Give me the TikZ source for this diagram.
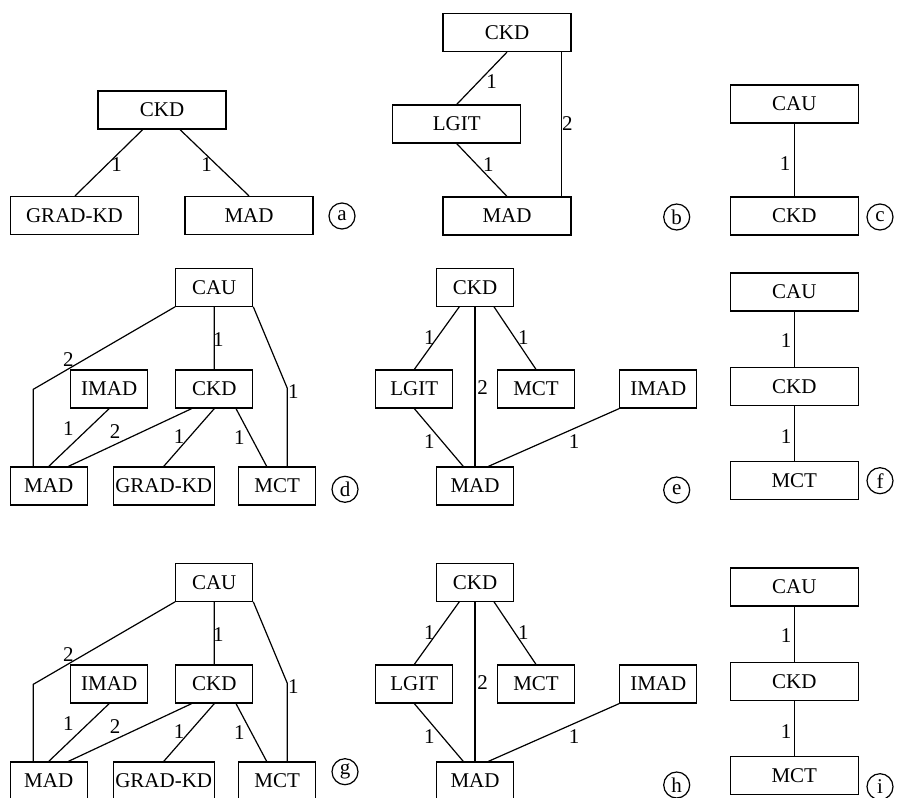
\documentclass[tikz,border=0pt]{standalone}
\usepackage{fontspec}
\setmainfont{Liberation Serif}
\usetikzlibrary{calc}
\tikzset{
  txt/.style={font=\fontsize{10.5}{12}\selectfont},
  box/.style={draw, line width=0.6pt, inner sep=0pt, minimum height=19pt, txt},
  wide/.style={box, minimum width=64pt},
  narrow/.style={box, minimum width=38.5pt},
  gradw/.style={box, minimum width=50.5pt},
  tag/.style={draw, circle, line width=0.6pt, minimum size=13pt, inner sep=0pt, txt},
  lab/.style={inner sep=0pt, txt},
  conn/.style={line width=0.6pt},
}
\begin{document}
\begin{tikzpicture}[x=0.5pt,y=-0.5pt]
\clip (0,0) rectangle (900,798);
% ---------- panel a
\node[wide] (aCKD) at (162,110) {CKD};
\node[wide] (aGRAD) at (74.5,215.5) {GRAD-KD};
\node[wide] (aMAD) at (249,215.5) {MAD};
\node[tag] (aT) at (342,216) {a};
\draw[conn] ($(aCKD.south)+(-19.3,0)$) -- ($(aGRAD.north)+(0.5,0)$);
\draw[conn] ($(aCKD.south)+(18,0)$) -- (aMAD.north);
\node[lab] (aL1) at (116.7,165) {1};
\node[lab] (aL2) at (206.7,165) {1};
% ---------- panel b
\node[wide] (bCKD) at (507,32.5) {CKD};
\node[wide] (bLGIT) at (456.7,124) {LGIT};
\node[wide] (bMAD) at (507,216) {MAD};
\node[tag] (bT) at (676.7,217) {b};
\draw[conn] (bCKD.south) -- (bLGIT.north);
\draw[conn] (bLGIT.south) -- (bMAD.north);
\draw[conn] ($(bCKD.south)+(54.7,0)$) -- ($(bMAD.north)+(54.7,0)$);
\node[lab] (bL1) at (491.7,81.7) {1};
\node[lab] (bL2) at (488.3,165) {1};
\node[lab] (bL3) at (567.3,123.3) {2};
% ---------- panel c
\node[wide] (cCAU) at (794.3,104) {CAU};
\node[wide] (cCKD) at (794.3,216) {CKD};
\node[tag] (cT) at (880,217) {c};
\draw[conn] (cCAU) -- (cCKD);
\node[lab] (cL1) at (785,163.3) {1};
% ---------- panels d and g
\foreach \p/\dy/\ty in {d/0/489.3, g/295/771.7}{
  \node[narrow] (\p CAU) at (214.2,287.2+\dy) {CAU};
  \node[narrow] (\p IMAD) at (109.2,389+\dy) {IMAD};
  \node[narrow] (\p CKD) at (214.3,389+\dy) {CKD};
  \node[narrow] (\p MAD) at (48.7,486+\dy) {MAD};
  \node[gradw] (\p GRAD) at (163.7,486+\dy) {GRAD-KD};
  \node[narrow] (\p MCT) at (277.2,486+\dy) {MCT};
  \node[tag] (\p T) at (345,\ty) {\p};
  \coordinate (\p B1) at (33.3,389.3+\dy);
  \coordinate (\p B2) at (287.3,388.3+\dy);
  \draw[conn] (\p CAU.south west) -- (\p B1) -- (\p B1 |- \p MAD.north);
  \draw[conn] (\p CAU.south east) -- (\p B2) -- (\p B2 |- \p MCT.north);
  \draw[conn] (\p CAU.south) -- (\p CKD.north);
  \draw[conn] (\p IMAD.south) -- (\p MAD.north);
  \draw[conn] ($(\p CKD.south)+(-22.6,0)$) -- ($(\p MAD.north)+(19.6,0)$);
  \draw[conn] (\p CKD.south) -- (\p GRAD.north);
  \draw[conn] ($(\p CKD.south)+(21.7,0)$) -- ($(\p MCT.north)+(-10.5,0)$);
  \node[lab] (\p L1) at (68.3,360+\dy) {2};
  \node[lab] (\p L2) at (218.3,340+\dy) {1};
  \node[lab] (\p L3) at (293.3,391.7+\dy) {1};
  \node[lab] (\p L4) at (68.3,429+\dy) {1};
  \node[lab] (\p L5) at (115,431.7+\dy) {2};
  \node[lab] (\p L6) at (179,436.7+\dy) {1};
  \node[lab] (\p L7) at (239.3,437.5+\dy) {1};
}
% ---------- panels e and h
\foreach \p/\dy/\ty in {e/0/490, h/295/785}{
  \node[narrow] (\p CKD) at (475,287.2+\dy) {CKD};
  \node[narrow] (\p LGIT) at (414.3,389+\dy) {LGIT};
  \node[narrow] (\p MCT) at (536,389+\dy) {MCT};
  \node[narrow] (\p IMAD) at (658.3,389+\dy) {IMAD};
  \node[narrow] (\p MAD) at (475,486+\dy) {MAD};
  \node[tag] (\p T) at (676.7,\ty) {\p};
  \draw[conn] ($(\p CKD.south)+(-15.7,0)$) -- (\p LGIT.north);
  \draw[conn] (\p CKD.south) -- (\p MAD.north);
  \draw[conn] ($(\p CKD.south)+(19,0)$) -- (\p MCT.north);
  \draw[conn] (\p LGIT.south) -- ($(\p MAD.north)+(-11.7,0)$);
  \draw[conn] (\p IMAD.south west) -- ($(\p MAD.north)+(13.3,0)$);
  \node[lab] (\p L1) at (429.3,337.3+\dy) {1};
  \node[lab] (\p L2) at (523.3,337.3+\dy) {1};
  \node[lab] (\p L3) at (482.7,387.7+\dy) {2};
  \node[lab] (\p L4) at (429.3,441.7+\dy) {1};
  \node[lab] (\p L5) at (574,441.7+\dy) {1};
}
% ---------- panels f and i
\foreach \p/\dy/\ty in {f/0/480.7, i/295/786.7}{
  \node[wide] (\p CAU) at (794.3,292+\dy) {CAU};
  \node[wide] (\p CKD) at (794.3,386.2+\dy) {CKD};
  \node[wide] (\p MCT) at (794.3,480.5+\dy) {MCT};
  \node[tag] (\p T) at (880,\ty) {\p};
  \draw[conn] (\p CAU) -- (\p CKD);
  \draw[conn] (\p CKD) -- (\p MCT);
  \node[lab] (\p L1) at (786,341+\dy) {1};
  \node[lab] (\p L2) at (786,436.7+\dy) {1};
}
\end{tikzpicture}
\end{document}
